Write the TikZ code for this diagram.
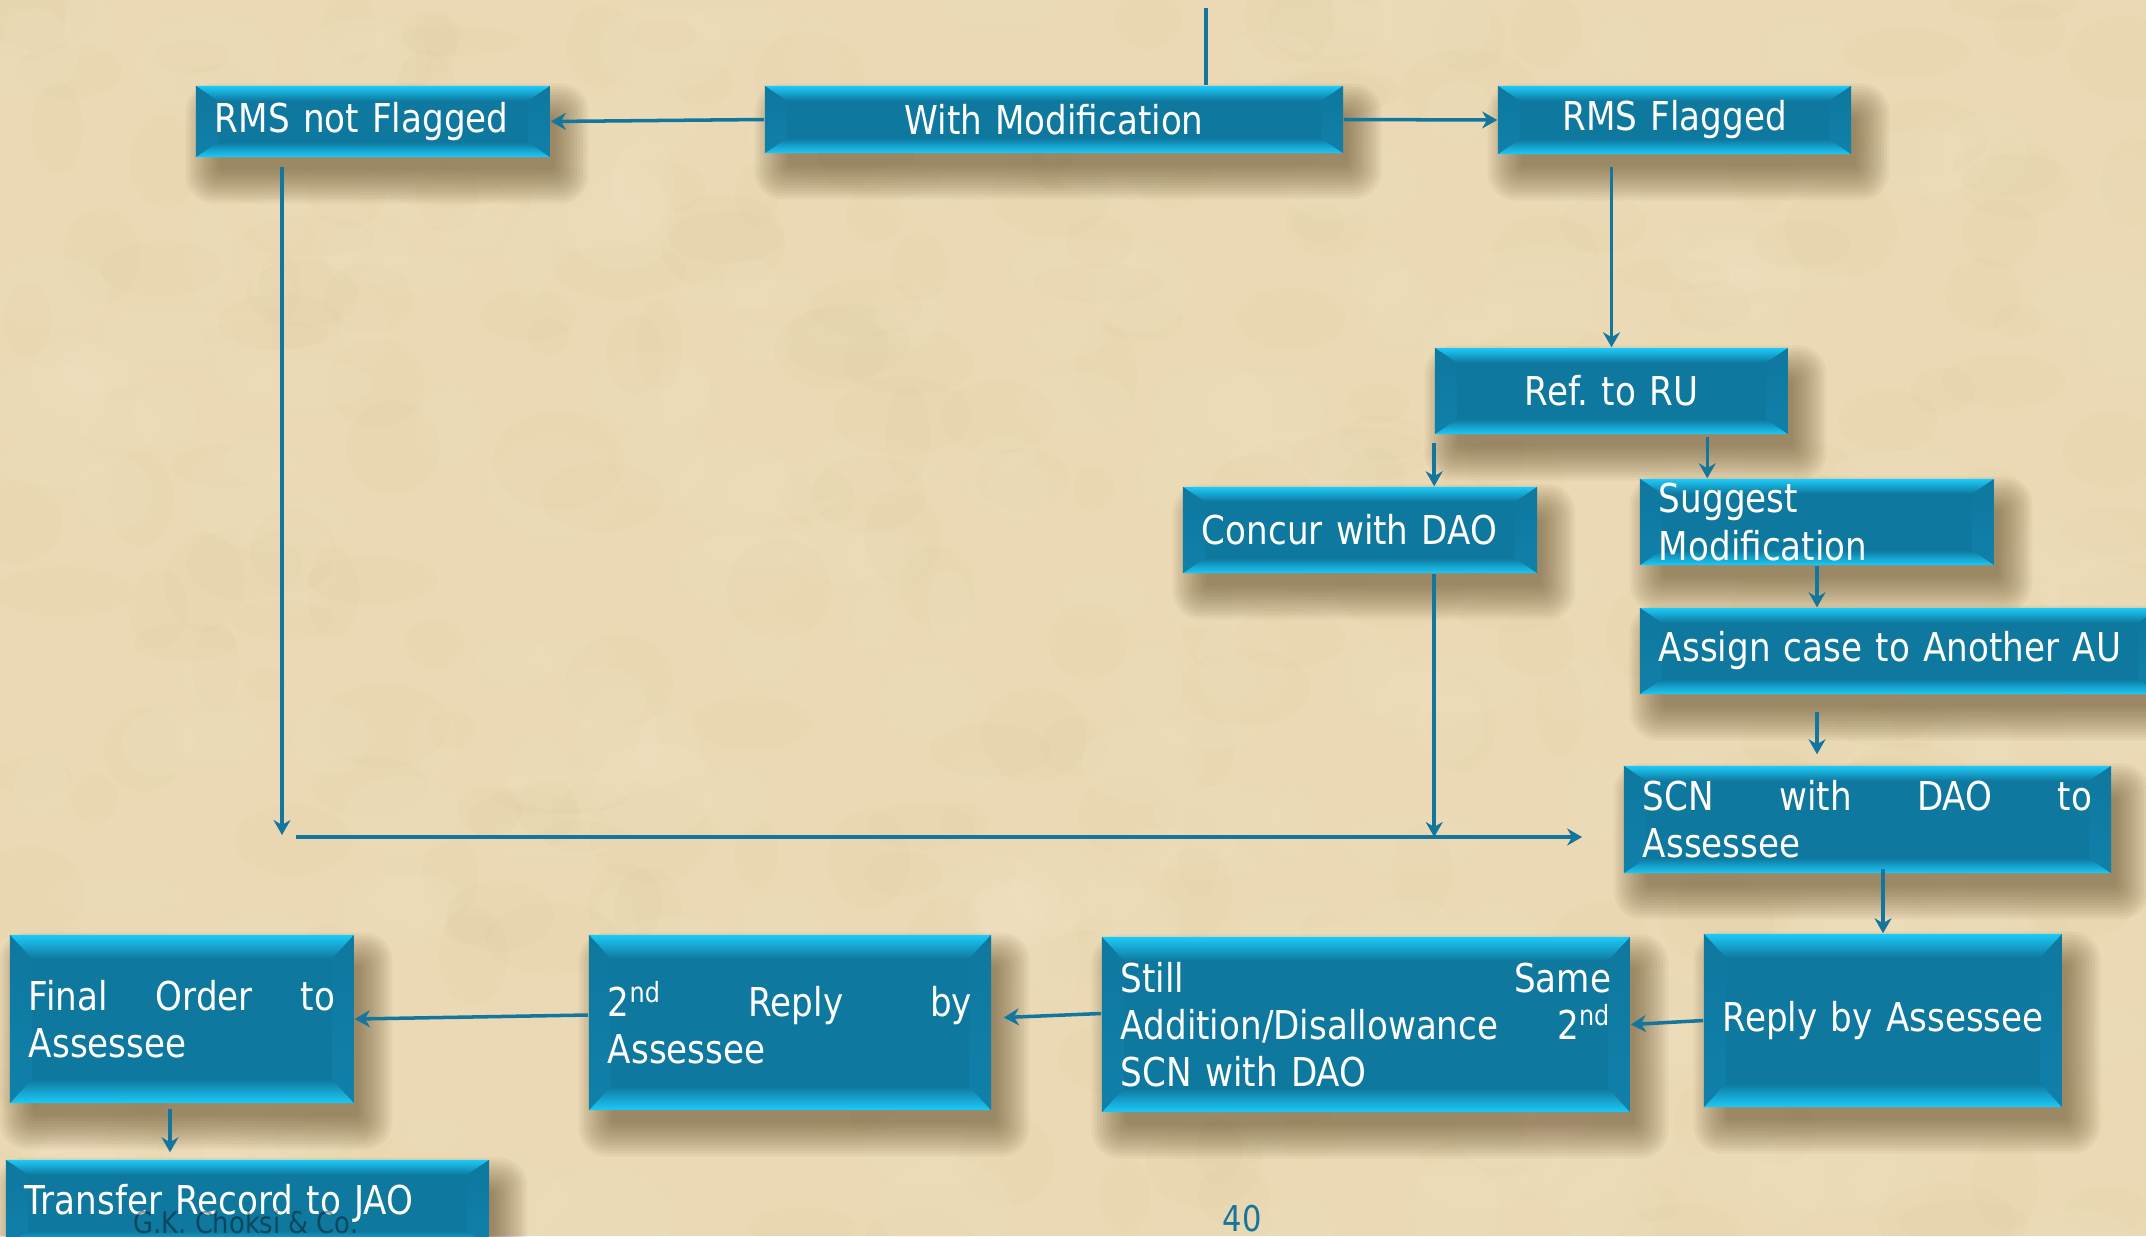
\documentclass[tikz,border=0pt]{standalone}
\usepackage{fontspec}
\setmainfont{DejaVu Sans}[FakeStretch=0.86]
\usetikzlibrary{calc,arrows.meta}

\definecolor{parchment}{RGB}{234,217,180}
\definecolor{parchdark}{RGB}{210,186,140}
\definecolor{parchlight}{RGB}{246,233,203}
\definecolor{boxblue}{RGB}{15,120,158}
\definecolor{bevtop}{RGB}{28,202,248}
\definecolor{bevside}{RGB}{16,128,170}
\definecolor{linkblue}{RGB}{20,118,156}
\definecolor{shadowtan}{RGB}{85,62,30}

\pgfdeclarelayer{paper}
\pgfdeclarelayer{shade}
\pgfsetlayers{paper,shade,main}

\def\bx{0.22cm}
\def\by{0.15cm}
\def\boxfont{\fontsize{11.3}{13.4}\selectfont\frenchspacing}
% soft shadow under a box node
\def\boxshadow#1{%
	\foreach \k in {0,...,12}{
		\fill[shadowtan, opacity=0.05, rounded corners={0.04cm+\k*0.02cm}]
			([shift={(0.14cm+0.10cm-\k*0.028cm,-0.22cm-0.10cm+\k*0.028cm)}]#1.north west) rectangle
			([shift={(0.14cm-0.10cm+\k*0.028cm,-0.22cm+0.10cm-\k*0.028cm)}]#1.south east);
	}}

\tikzset{
  flowbox/.style={rectangle, fill=boxblue, text=white, inner xsep=0.19cm, inner ysep=0pt,
    align=left, font=\boxfont,
    path picture={
      \coordinate (pNW) at (path picture bounding box.north west);
      \coordinate (pNE) at (path picture bounding box.north east);
      \coordinate (pSW) at (path picture bounding box.south west);
      \coordinate (pSE) at (path picture bounding box.south east);
      \shade[top color=bevtop, bottom color=boxblue] (pNW) -- (pNE) -- ([shift={(-\bx,-\by)}]pNE) -- ([shift={(\bx,-\by)}]pNW) -- cycle;
      \shade[top color=boxblue, bottom color=bevtop] (pSW) -- (pSE) -- ([shift={(-\bx,\by)}]pSE) -- ([shift={(\bx,\by)}]pSW) -- cycle;
      \shade[top color=boxblue, bottom color=bevside] (pNW) -- ([shift={(\bx,-\by)}]pNW) -- ([shift={(\bx,\by)}]pSW) -- (pSW) -- cycle;
      \shade[top color=boxblue, bottom color=bevside] (pNE) -- ([shift={(-\bx,-\by)}]pNE) -- ([shift={(-\bx,\by)}]pSE) -- (pSE) -- cycle;
    }},
  tall/.code={\def\by{0.24cm}},
  link/.style={draw=linkblue, line width=1pt},
  flow/.style={link, -{Stealth[length=0.15cm,width=0.17cm]}},
}

\begin{document}
\begin{tikzpicture}[x=0.01cm, y=-0.01cm]
		%%%%% START %%%%%
		\useasboundingbox (0,0) rectangle (2146,1236);
		
		% parchment
		\begin{pgfonlayer}{paper}
		\fill[parchment] (0,0) rectangle (2146,1236);
		\pgfmathsetseed{11}
		\foreach \i in {1,...,260}{
			\fill[parchdark, opacity=0.06] ({rnd*2146},{rnd*1236}) ellipse ({20+rnd*50} and {15+rnd*35});
			\fill[parchlight, opacity=0.12] ({rnd*2146},{rnd*1236}) ellipse ({20+rnd*50} and {15+rnd*35});
		}
		\end{pgfonlayer}
		
		% top row
		\node[flowbox, minimum width=3.54cm, minimum height=0.71cm, text width=3.16cm] (rmsno) at (373,121.5) {RMS not Flagged};
		\node[flowbox, minimum width=5.78cm, minimum height=0.67cm, text width=5.40cm, align=center] (withmod) at (1054,119.5) {With Modification};
		\node[flowbox, minimum width=3.53cm, minimum height=0.68cm, text width=3.15cm, align=center] (rmsyes) at (1674.5,120) {RMS Flagged};
		
		% right branch
		\node[flowbox, minimum width=3.53cm, minimum height=0.86cm, text width=3.15cm, align=center] (ref) at (1611.5,391) {Ref. to RU};
		\node[flowbox, minimum width=3.54cm, minimum height=0.86cm, text width=3.16cm] (concur) at (1360,530) {Concur with DAO};
		\node[flowbox, minimum width=3.54cm, minimum height=0.86cm, text width=3.16cm] (suggest) at (1817,522) {Suggest\\Modification};
		\node[flowbox, minimum width=5.20cm, minimum height=0.86cm, text width=4.82cm] (assign) at (1900,651) {Assign case to Another AU};
		\node[flowbox, minimum width=4.87cm, minimum height=1.07cm, text width=4.49cm] (scn) at (1867.5,819.5) {SCN\hfill with\hfill DAO\hfill to\\Assessee};
		
		% bottom row
		\node[flowbox, tall, minimum width=3.54cm, minimum height=1.73cm, text width=3.20cm] (reply) at (1883,1020.5) {\mbox{Reply by Assessee}};
		\node[flowbox, tall, minimum width=5.28cm, minimum height=1.75cm, text width=4.90cm] (still) at (1366,1024.5) {Still\hfill Same\\Addition/Disallowance\hfill 2\textsuperscript{nd}\\SCN with DAO};
		\node[flowbox, tall, minimum width=4.02cm, minimum height=1.75cm, text width=3.64cm] (reply2) at (790,1022.5) {2\textsuperscript{nd}\hfill Reply\hfill by\\Assessee};
		\node[flowbox, tall, minimum width=3.44cm, minimum height=1.68cm, text width=3.06cm] (final) at (182,1019) {Final\hfill Order\hfill to\\Assessee};
		\node[flowbox, minimum width=4.83cm, minimum height=0.86cm, text width=4.45cm] (transfer) at (247.5,1203) {Transfer Record to JAO};
		
		% shadows
		\begin{pgfonlayer}{shade}
		\foreach \n in {rmsno,withmod,rmsyes,ref,concur,suggest,assign,scn,reply,still,reply2,final,transfer}{
			\boxshadow{\n}
		}
		\end{pgfonlayer}
		
		% connectors
		\coordinate (topin) at (1206,8);
		\draw[link] (topin) -- (topin |- withmod.north);
		\draw[flow] (withmod.west) -- (rmsno.east);
		\draw[flow] (withmod.east) -- (rmsyes.west);
		\draw[flow, shorten <=0.12cm] (ref.north |- rmsyes.south) -- (ref.north);
		\draw[flow, shorten <=0.08cm] (ref.south west) -- (ref.south west |- concur.north);
		\coordinate (refR) at ($(ref.south west)!0.77!(ref.south east)$);
		\draw[flow, shorten <=0.02cm] (refR) -- (refR |- suggest.north);
		\draw[flow] (suggest.south) -- (assign.north -| suggest.south);
		\draw[flow, shorten <=0.17cm, shorten >=0.11cm] (assign.south -| suggest.south) -- (scn.north -| suggest.south);
		
		\coordinate (dropL) at (282,835);
		\draw[flow, shorten <=0.09cm] (rmsno.south -| dropL) -- (dropL);
		\coordinate (busL) at (296,837);
		\draw[flow, shorten >=0.41cm] (busL) -- (scn.west |- busL);
		\draw[flow] (concur.south -| ref.south west) -- (ref.south west |- busL);
		
		\draw[flow, shorten <=-0.05cm] (scn.south -| reply.north) -- (reply.north);
		\draw[flow] (reply.west) -- (still.east);
		\draw[flow, shorten >=0.12cm] ([yshift=0.11cm]still.west) -- ([yshift=0.045cm]reply2.east);
		\draw[flow] ([yshift=0.075cm]reply2.west) -- (final.east);
		\coordinate (fdrop) at ([xshift=-0.12cm]final.south);
		\draw[flow, shorten <=0.05cm, shorten >=0.07cm] (fdrop) -- (fdrop |- transfer.north);
		
		% footer
		\node[text=black, opacity=0.4, inner sep=0pt, font=\fontsize{8.5}{10}\selectfont] (footer) at (246,1222) {G.K. Choksi \& Co.};
		\node[text=linkblue, inner sep=0pt, font=\fontsize{10.1}{12}\selectfont] (pagenum) at (1242,1219) {40};
		
		%%%%% END %%%%%
	\end{tikzpicture}
\end{document}
